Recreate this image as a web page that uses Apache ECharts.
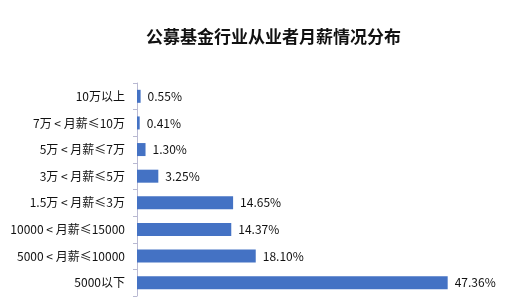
<!DOCTYPE html>
<html>
<head>
<meta charset="utf-8">
<script src="https://cdn.jsdelivr.net/npm/echarts@6/dist/echarts.min.js"></script>
<style>
  html, body { margin: 0; padding: 0; background: #fff; }
  #chart { width: 517px; height: 306px; }
</style>
</head>
<body>
<div id="chart"></div>
<script>
// 从上到下
const categories = [
  '10万以上',
  '7万 < 月薪≤10万',
  '5万 < 月薪≤7万',
  '3万 < 月薪≤5万',
  '1.5万 < 月薪≤3万',
  '10000 < 月薪≤15000',
  '5000 < 月薪≤10000',
  '5000以下'
]
const values = [0.55, 0.41, 1.30, 3.25, 14.65, 14.37, 18.10, 47.36]

const fontFamily = '"Noto Sans CJK SC", "Noto Sans", sans-serif'

const myChart = echarts.init(document.getElementById('chart'))
myChart.setOption({
  animation: false,
  title: {
    text: '公募基金行业从业者月薪情况分布',
    left: 141,
    top: 23,
    textStyle: { fontFamily, fontSize: 17, fontWeight: 'bold', color: '#111' }
  },
  grid: { left: 137, right: 52, top: 83, bottom: 10, containLabel: false },
  xAxis: {
    type: 'value',
    min: 0,
    max: 50,
    show: false
  },
  yAxis: {
    type: 'category',
    inverse: true,
    data: categories,
    axisLine: { lineStyle: { color: '#b9b9d2', width: 1 } },
    axisTick: { show: true, length: 4, lineStyle: { color: '#b9b9d2' } },
    axisLabel: { fontFamily, fontSize: 12, color: '#111', margin: 12 }
  },
  series: [{
    type: 'bar',
    data: values,
    barWidth: 13,
    itemStyle: { color: '#4472c4' },
    label: {
      show: true,
      position: 'right',
      distance: 7,
      fontFamily,
      fontSize: 12,
      color: '#111',
      formatter: (p) => p.value.toFixed(2) + '%'
    }
  }]
})
</script>
</body>
</html>
